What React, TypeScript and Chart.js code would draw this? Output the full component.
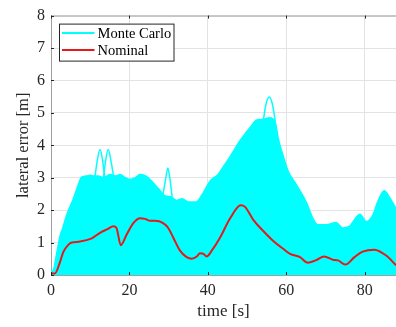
import React, { useEffect, useRef } from 'react';
import { Chart, registerables } from 'chart.js';

Chart.register(...registerables);

// Monte Carlo upper envelope (dense band of trajectories)
const mcTime = [0, 0.6, 1.2, 2.3, 3.0, 4.0, 5.7, 7.0, 7.8, 9.0, 10, 11, 12, 13.5, 15, 16.5, 17.6, 19, 20.2, 21.5, 22.7, 24.4, 26, 27.5, 29, 30.8, 32, 33.5, 35, 37, 38.9, 40.6, 42.6, 44, 45.7, 48.2, 50.8, 52.5, 54.2, 55.7, 57.1, 58, 59.3, 60.5, 62.5, 65.1, 66.8, 68, 70.2, 72.7, 74.4, 76.1, 78.8, 80.4, 82.1, 83.3, 85, 86.3, 88];
const mcUpper = [0.12, 0.15, 0.5, 1.2, 1.45, 1.85, 2.35, 2.8, 3.02, 3.05, 3.08, 3.05, 3.05, 3.0, 3.1, 3.05, 3.1, 3.0, 2.95, 3.0, 3.1, 3.04, 2.85, 2.65, 2.45, 2.4, 2.3, 2.35, 2.25, 2.25, 2.55, 2.9, 3.1, 3.35, 3.65, 4.14, 4.55, 4.78, 4.8, 4.85, 4.75, 4.2, 3.64, 3.2, 2.8, 2.25, 1.75, 1.55, 1.55, 1.62, 1.45, 1.5, 1.87, 1.65, 1.85, 2.25, 2.6, 2.4, 2.05];

// Outlier Monte Carlo trajectories (spikes above the band)
const spikeATime = [11.2, 11.7, 12.5, 13.2, 13.7];
const spikeAValue = [3.0, 3.45, 3.87, 3.5, 3.0];
const spikeBTime = [13.4, 13.9, 14.6, 15.4, 16.0];
const spikeBValue = [3.0, 3.5, 3.87, 3.45, 3.0];
const spikeCTime = [28.6, 29.3, 29.8, 30.3, 30.9];
const spikeCValue = [2.5, 3.0, 3.3, 3.0, 2.4];
const spikeDTime = [54.1, 54.8, 55.7, 56.5, 57.2];
const spikeDValue = [4.7, 5.25, 5.49, 5.25, 4.75];

// Nominal trajectory
const nominalTime = [0, 1.0, 2.3, 3.1, 4.4, 5.3, 7.4, 10.4, 12.5, 14.5, 15.9, 16.7, 17.8, 19.3, 21.0, 22.7, 24.0, 25.3, 26.5, 28.6, 29.9, 31.2, 32.9, 34.6, 35.9, 37.2, 38.0, 38.9, 39.7, 41.0, 43.1, 45.7, 48.4, 49.5, 51.6, 54.2, 56.7, 59.3, 61.0, 63.5, 65.5, 67.5, 69.7, 71.9, 73.2, 75.1, 77.4, 79.5, 82.5, 85.5, 88.0];
const nominalValue = [0.05, 0.05, 0.4, 0.7, 0.93, 1.0, 1.03, 1.13, 1.3, 1.42, 1.5, 1.45, 0.92, 1.25, 1.6, 1.75, 1.73, 1.67, 1.67, 1.6, 1.45, 1.15, 0.75, 0.55, 0.5, 0.57, 0.67, 0.65, 0.57, 0.75, 1.15, 1.75, 2.15, 2.1, 1.7, 1.35, 1.05, 0.8, 0.65, 0.55, 0.38, 0.45, 0.57, 0.47, 0.45, 0.32, 0.55, 0.72, 0.78, 0.6, 0.3];

const seriesLabels = ['Monte Carlo', 'Nominal'];
const xTitle = 'time [s]';
const yTitle = 'lateral error [m]';

const CYAN = '#00ffff';
const RED = '#e81818';
const AXIS = '#262626';
const SERIF = "'Liberation Serif', 'Times New Roman', serif";

Chart.defaults.font.family = SERIF;

const pts = (xs: number[], ys: number[]) => xs.map((x, i) => ({ x, y: ys[i] }));

const matlabPlugin = {
  id: 'matlabDecor',
  afterDatasetsDraw(chart: any) {
    const { ctx, chartArea } = chart;
    const { left, right, top, bottom } = chartArea;
    ctx.save();
    // top box line
    ctx.strokeStyle = '#a0a0a0';
    ctx.lineWidth = 1;
    ctx.beginPath();
    ctx.moveTo(left, top + 0.5);
    ctx.lineTo(right, top + 0.5);
    ctx.stroke();
    // inward tick marks
    ctx.strokeStyle = AXIS;
    const xs = chart.scales.x;
    const ys = chart.scales.y;
    xs.ticks.forEach((t: any) => {
      const px = Math.round(xs.getPixelForValue(t.value)) + 0.5;
      ctx.beginPath();
      ctx.moveTo(px, top);
      ctx.lineTo(px, top + 3);
      ctx.moveTo(px, bottom);
      ctx.lineTo(px, bottom - 3);
      ctx.stroke();
    });
    ys.ticks.forEach((t: any) => {
      const py = Math.round(ys.getPixelForValue(t.value)) + 0.5;
      ctx.beginPath();
      ctx.moveTo(left, py);
      ctx.lineTo(left + 3, py);
      ctx.stroke();
    });
    // legend box
    const bx = left + 8.5;
    const by = top + 8.5;
    const bw = 114.5;
    const bh = 37;
    ctx.fillStyle = '#ffffff';
    ctx.fillRect(bx, by, bw, bh);
    ctx.strokeStyle = AXIS;
    ctx.lineWidth = 1;
    ctx.strokeRect(bx, by, bw, bh);
    const items = [
      { label: seriesLabels[0], color: CYAN },
      { label: seriesLabels[1], color: RED },
    ];
    ctx.font = `14.5px ${SERIF}`;
    ctx.textBaseline = 'middle';
    ctx.textAlign = 'left';
    items.forEach((it, i) => {
      const cy = by + 9 + i * 17;
      ctx.strokeStyle = it.color;
      ctx.lineWidth = 2;
      ctx.beginPath();
      ctx.moveTo(bx + 2.5, cy);
      ctx.lineTo(bx + 35, cy);
      ctx.stroke();
      ctx.fillStyle = '#000000';
      ctx.fillText(it.label, bx + 38, cy + 1);
    });
    ctx.restore();
  },
};

export default function App() {
  const ref = useRef<HTMLCanvasElement | null>(null);
  useEffect(() => {
    const canvas = ref.current;
    if (!canvas) return;
    const spikeStyle = {
      borderColor: CYAN,
      backgroundColor: CYAN,
      borderWidth: 1.5,
      fill: false,
      pointRadius: 0,
      order: 2,
      cubicInterpolationMode: 'monotone' as const,
    };
    const chart = new Chart(canvas, {
      type: 'line',
      data: {
        datasets: [
          {
            label: seriesLabels[1],
            data: pts(nominalTime, nominalValue),
            borderColor: RED,
            backgroundColor: RED,
            borderWidth: 2,
            fill: false,
            pointRadius: 0,
            order: 0,
            cubicInterpolationMode: 'monotone',
          },
          {
            label: seriesLabels[0],
            data: pts(mcTime, mcUpper),
            borderColor: CYAN,
            backgroundColor: CYAN,
            borderWidth: 1.5,
            fill: 'origin',
            pointRadius: 0,
            order: 3,
            cubicInterpolationMode: 'monotone',
          },
          { label: '', data: pts(spikeATime, spikeAValue), ...spikeStyle },
          { label: '', data: pts(spikeBTime, spikeBValue), ...spikeStyle },
          { label: '', data: pts(spikeCTime, spikeCValue), ...spikeStyle },
          { label: '', data: pts(spikeDTime, spikeDValue), ...spikeStyle },
        ],
      },
      options: {
        animation: false,
        responsive: false,
        devicePixelRatio: 1,
        layout: { padding: { top: 8, left: 0, right: 0, bottom: 0 } },
        plugins: { legend: { display: false }, tooltip: { enabled: false } },
        scales: {
          x: {
            type: 'linear',
            min: 0,
            max: 88,
            afterFit: (s: any) => {
              s.height = 52;
            },
            ticks: {
              stepSize: 20,
              includeBounds: false,
              maxRotation: 0,
              padding: 6,
              color: AXIS,
              font: { family: SERIF, size: 16 },
            },
            grid: { color: '#e3e3e3', drawTicks: false },
            border: { color: '#a0a0a0' },
            title: {
              display: true,
              text: xTitle,
              color: AXIS,
              font: { family: SERIF, size: 17 },
              padding: { top: 0, bottom: 5 },
            },
          },
          y: {
            type: 'linear',
            min: 0,
            max: 8,
            afterFit: (s: any) => {
              s.width = 51;
            },
            ticks: {
              stepSize: 1,
              padding: 6,
              color: AXIS,
              font: { family: SERIF, size: 16 },
            },
            grid: { color: '#e3e3e3', drawTicks: false },
            border: { color: '#a0a0a0' },
            title: {
              display: true,
              text: yTitle,
              color: AXIS,
              font: { family: SERIF, size: 16.5 },
              padding: { top: 14, bottom: 0 },
            },
          },
        },
      },
      plugins: [matlabPlugin],
    });
    return () => chart.destroy();
  }, []);
  return (
    <div style={{ position: 'fixed', left: 0, top: 0, width: 396, height: 327, background: '#ffffff' }}>
      <canvas ref={ref} width={396} height={327} style={{ display: 'block', width: 396, height: 327 }} />
    </div>
  );
}
